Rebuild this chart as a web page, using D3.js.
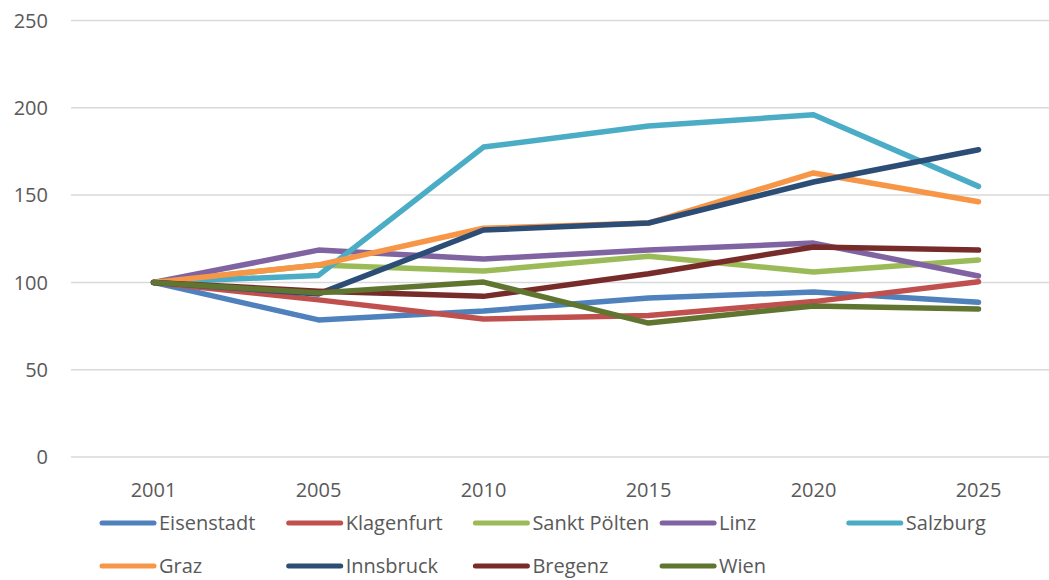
<!DOCTYPE html>
<html><head><meta charset="utf-8">
<script src="https://cdn.jsdelivr.net/npm/d3@7"></script>
<style>body{margin:0;background:#fff}svg{display:block}text{font-family:"Open Sans","Noto Sans",sans-serif;fill:#595959}</style>
</head><body>
<svg id="c" width="1049" height="580"></svg>
<script>
const years = ["2001","2005","2010","2015","2020","2025"];
const yTicks = [0,50,100,150,200,250];
const cities = ["Eisenstadt","Klagenfurt","Sankt Pölten","Linz","Salzburg","Graz","Innsbruck","Bregenz","Wien"];
const colors = ["#4F81BD","#C0504D","#9BBB59","#8064A2","#4BACC6","#F79646","#2C4D75","#772C2A","#5F7530"];
const eisenstadt = [100,78.5,83.6,91,94.5,88.6];
const klagenfurt = [100,90,79,81,89,100.4];
const sanktPoelten = [100,110,106.5,115,106,112.8];
const linz = [100,118.5,113.4,118.5,122.5,103.7];
const salzburg = [100,104,177.5,189.6,196,155];
const graz = [100,110,131,134,162.7,146.2];
const innsbruck = [100,93.4,130,134,157.5,176];
const bregenz = [100,95,92,105,120.3,118.5];
const wien = [100,94,100.2,76.7,86.5,84.8];
const seriesValues = [eisenstadt,klagenfurt,sanktPoelten,linz,salzburg,graz,innsbruck,bregenz,wien];

const svg = d3.select("#c");
const x = d3.scaleBand().domain(years).range([71,1061]);
const y = d3.scaleLinear().domain([0,250]).range([457,20.5]);

svg.append("g").selectAll("line").data(yTicks).join("line")
  .attr("x1",71).attr("x2",1061).attr("y1",d=>y(d)).attr("y2",d=>y(d))
  .attr("stroke","#d9d9d9").attr("stroke-width",1.5);

svg.append("g").selectAll("text").data(yTicks).join("text")
  .attr("x",48).attr("y",d=>y(d)).attr("dy","0.36em").attr("text-anchor","end")
  .attr("font-size",20).text(d=>d);

svg.append("g").selectAll("text").data(years).join("text")
  .attr("x",d=>x(d)+x.bandwidth()/2).attr("y",490).attr("dy","0.36em").attr("text-anchor","middle")
  .attr("font-size",20).text(d=>d);

const line = d3.line().x((d,i)=>x(years[i])+x.bandwidth()/2).y(d=>y(d));
svg.append("g").selectAll("path").data(seriesValues).join("path")
  .attr("d",d=>line(d)).attr("fill","none").attr("stroke",(d,i)=>colors[i])
  .attr("stroke-width",5.5).attr("stroke-linecap","round").attr("stroke-linejoin","round");

const lg = svg.append("g");
cities.forEach((c,i)=>{
  const col = i%5, row = Math.floor(i/5);
  const lx = 100 + col*186.7, ly = 523 + row*43;
  lg.append("line").attr("x1",lx+2).attr("x2",lx+54).attr("y1",ly).attr("y2",ly)
    .attr("stroke",colors[i]).attr("stroke-width",5).attr("stroke-linecap","round");
  lg.append("text").attr("x",lx+59).attr("y",ly).attr("dy","0.36em").attr("font-size",20).text(c);
});
</script>
</body></html>
